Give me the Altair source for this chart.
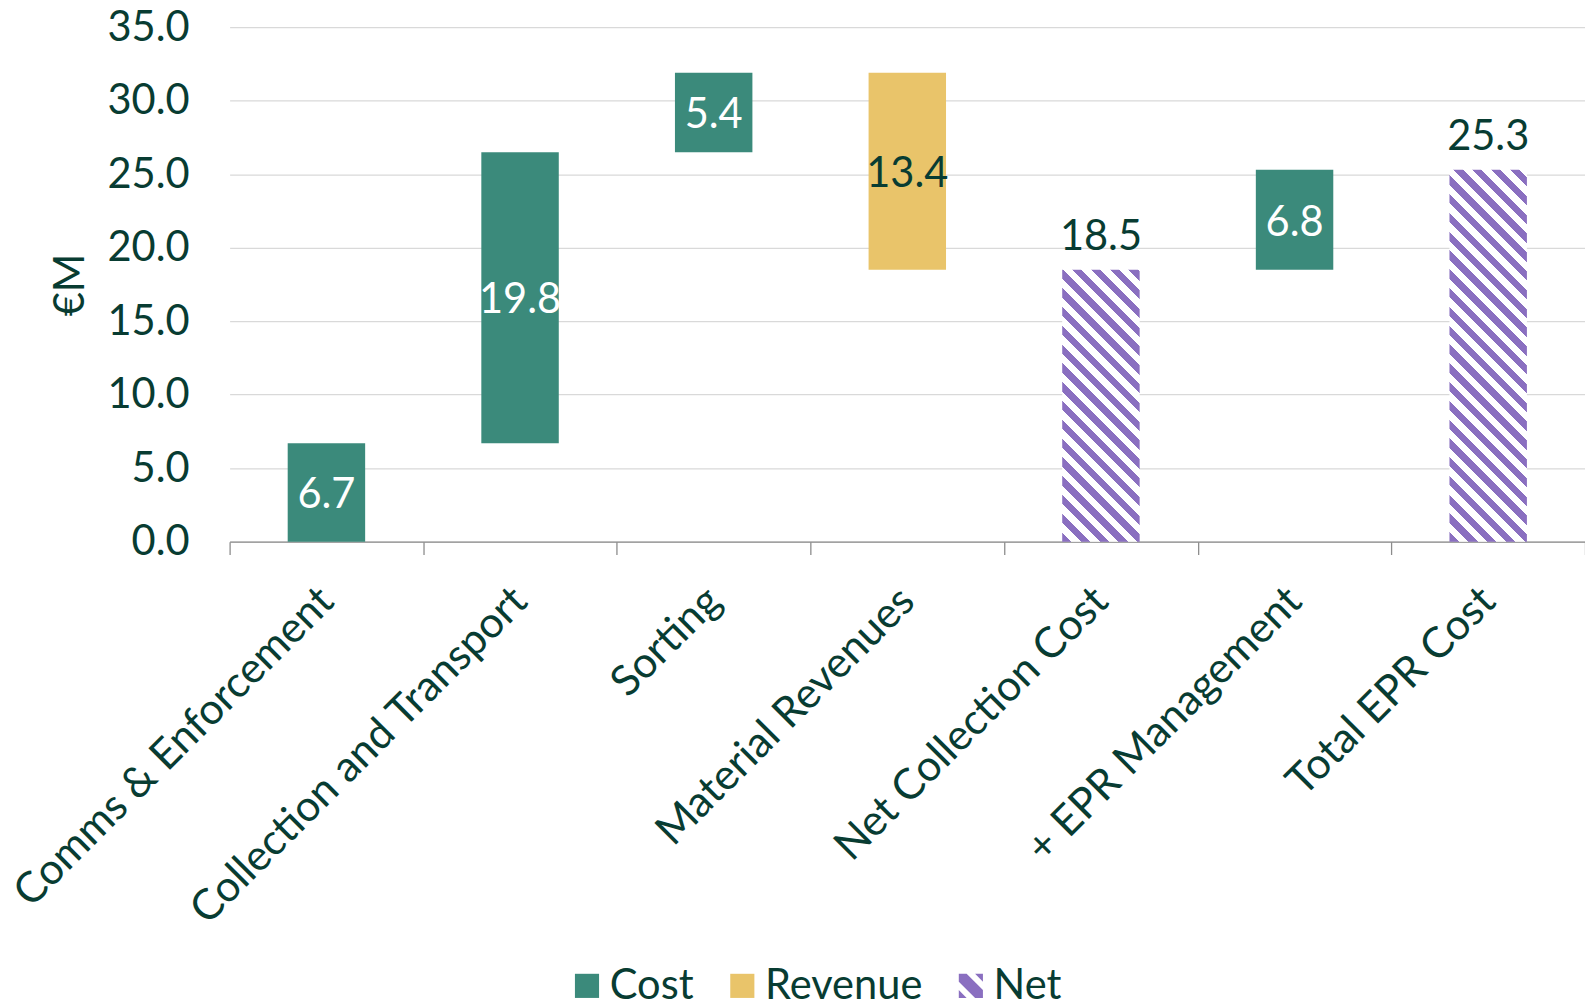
import altair as alt
import pandas as pd

# ---------------- data ----------------
categories = ["Comms & Enforcement", "Collection and Transport", "Sorting",
              "Material Revenues", "Net Collection Cost", "+ EPR Management",
              "Total EPR Cost"]
values = [6.7, 19.8, 5.4, -13.4, 18.5, 6.8, 25.3]
kinds = ["Cost", "Cost", "Cost", "Revenue", "Net", "Cost", "Net"]
legend_kinds = ["Cost", "Revenue", "Net"]

# ---------------- style ----------------
TEAL = "#3b8a7b"
GOLD = "#e9c46a"
PURPLE = "#8a6fc0"
DARK = "#083c32"
FONT = "Lato"
FS = 42
W, H = 1370, 520
YMAX = 35
BAR_FRAC = 0.4
PAD = {"left": 224, "top": 14, "right": 0, "bottom": 468}

# waterfall start / end
starts, ends = [], []
running = 0.0
for v, k in zip(values, kinds):
    if k == "Net":
        s, e = 0.0, v
    else:
        s, e = running, running + v
    running = e
    starts.append(round(s, 2))
    ends.append(round(e, 2))

df = pd.DataFrame({
    "cat": categories,
    "kind": kinds,
    "start": starts,
    "end": ends,
    "label": [f"{abs(v):.1f}" for v in values],
    "mid": [(s + e) / 2 for s, e in zip(starts, ends)],
})

bar_w = W / len(categories) * BAR_FRAC


def hatch(val, period=19.0, frac=0.5):
    w = bar_w
    h = val / YMAX * H
    t = (w + h) / (w * w + h * h)
    d = period / (w + h)
    stops = []
    k = 0
    while k * d < 1:
        a = k * d
        b = min(a + frac * d, 1.0)
        c = min((k + 1) * d, 1.0)
        stops += [
            {"offset": a, "color": PURPLE},
            {"offset": b, "color": PURPLE},
            {"offset": b, "color": "#ffffff"},
            {"offset": c, "color": "#ffffff"},
        ]
        k += 1
    return {"gradient": "linear", "x1": 0, "y1": 1,
            "x2": w * t, "y2": 1 - h * t, "stops": stops}


x_enc = alt.X("cat:N", sort=categories,
              scale=alt.Scale(paddingInner=0, paddingOuter=0),
              axis=alt.Axis(title=None, labelAngle=-45, labelAlign="right",
                            labelBaseline="middle", labelPadding=40,
                            tickBand="extent", tickSize=13, tickColor="#8c8c8c",
                            domainColor="#8c8c8c", domainWidth=1.3, tickWidth=1.3,
                            labelFont=FONT, labelFontSize=43, labelColor=DARK,
                            labelLimit=1000, grid=False))
y_enc = alt.Y("start:Q",
              scale=alt.Scale(domain=[0, YMAX], nice=False),
              axis=alt.Axis(title="€M", values=list(range(0, 40, 5)), format=".1f",
                            domain=False, ticks=False, labelPadding=41,
                            labelFont=FONT, labelFontSize=FS, labelColor=DARK,
                            titleFont=FONT, titleFontSize=FS, titleColor=DARK,
                            titleFontWeight="normal", titlePadding=15,
                            gridColor="#d9d9d9", gridWidth=1.3))

base = alt.Chart(df)
bw = alt.RelativeBandSize(BAR_FRAC)

cost = base.mark_bar(color=TEAL, width=bw).encode(
    x=x_enc, y=y_enc, y2="end:Q").transform_filter(alt.datum.kind == "Cost")
rev = base.mark_bar(color=GOLD, width=bw).encode(
    x=x_enc, y=y_enc, y2="end:Q").transform_filter(alt.datum.kind == "Revenue")

net_layers = []
for c, v, k in zip(categories, values, kinds):
    if k == "Net":
        net_layers.append(
            base.mark_bar(fill=hatch(v), strokeWidth=0, width=bw)
            .encode(x=x_enc, y=y_enc, y2="end:Q")
            .transform_filter(alt.datum.cat == c)
        )

inner_text = base.mark_text(font=FONT, fontSize=FS, baseline="middle", dy=3).encode(
    x=alt.X("cat:N", sort=categories),
    y=alt.Y("mid:Q"),
    text="label:N",
    color=alt.condition(alt.datum.kind == "Cost", alt.value("#ffffff"), alt.value(DARK)),
).transform_filter(alt.datum.kind != "Net")

net_text = base.mark_text(font=FONT, fontSize=FS, baseline="bottom", dy=-11,
                          color=DARK).encode(
    x=alt.X("cat:N", sort=categories),
    y=alt.Y("end:Q"),
    text="label:N",
).transform_filter(alt.datum.kind == "Net")

NET_PATH = ("M-1,-1L-0.35,-1L1,0.35L1,1L0.35,1L-1,-0.35Z"
            "M0.35,-1L1,-1L1,-0.35Z"
            "M-1,0.35L-0.35,1L-1,1Z")

leg_props = dict(title=None, orient="none", direction="horizontal",
                 legendX=W * 0.252 - 5, legendY=H + 428,
                 labelFont=FONT, labelFontSize=FS, labelColor=DARK,
                 symbolSize=595, symbolStrokeWidth=0, labelOffset=2,
                 columnPadding=28, labelLimit=1000, padding=0)

legend_layer = base.mark_point(filled=True, size=595, opacity=1).encode(
    color=alt.Color("kind:N", scale=alt.Scale(domain=legend_kinds,
                                              range=[TEAL, GOLD, PURPLE]),
                    legend=alt.Legend(**leg_props)),
    shape=alt.Shape("kind:N", scale=alt.Scale(domain=legend_kinds,
                                              range=["square", "square", NET_PATH]),
                    legend=alt.Legend(**leg_props)),
).transform_filter("false")

chart = alt.layer(cost, rev, *net_layers, inner_text, net_text, legend_layer).properties(
    width=W, height=H, autosize="none", padding=PAD,
).configure_view(stroke=None)

chart.save("out.html", embed_options={"renderer": "svg", "actions": False})
